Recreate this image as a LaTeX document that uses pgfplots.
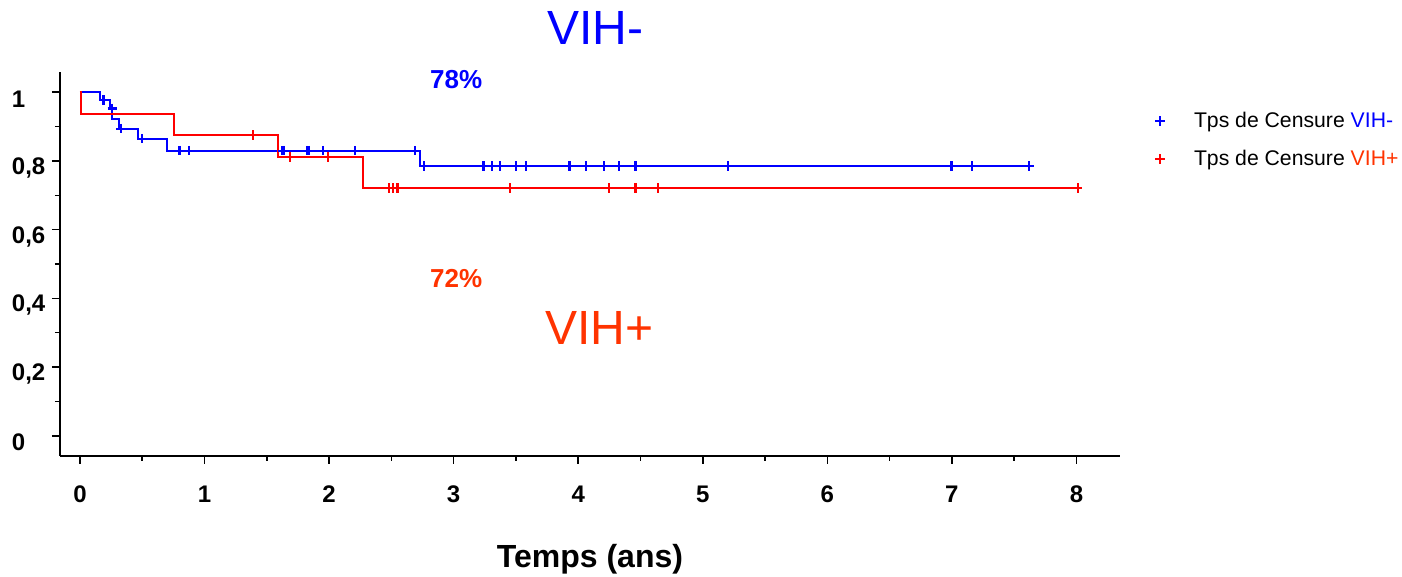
\documentclass[border=0pt]{standalone}
\usepackage{fontspec}
\setmainfont{Liberation Sans}
\usepackage{pgfplots}
\pgfplotsset{compat=1.18}
\definecolor{vihneg}{RGB}{0,0,255}
\definecolor{vihpos}{RGB}{255,0,0}
\definecolor{vihtxt}{RGB}{255,51,0}

\begin{document}
\begin{tikzpicture}
% page = 1402 x 577 px, 1 px = 0.5pt; axis box starts at px (60,456)
\path[use as bounding box] (-30pt,-60.5pt) rectangle (671pt,228pt);
\begin{axis}[
    scale only axis, width=530pt, height=192pt,
    xmin=-0.16, xmax=8.35, ymin=-0.059, ymax=1.059,
    axis lines=left, axis line style={-, line width=1pt},
    xtick={0,1,2,3,4,5,6,7,8}, minor x tick num=1,
    ytick={0,0.2,0.4,0.6,0.8,1}, minor y tick num=1,
    yticklabels={0,{0,2},{0,4},{0,6},{0,8},1},
    tick align=outside, major tick length=4pt, minor tick length=2.5pt,
    tick style={black, line width=0.8pt},
    ticklabel style={font=\fontsize{12}{14}\selectfont\bfseries},
    xticklabel style={yshift=-7.5pt},
    yticklabel style={xshift=2pt, yshift=-3.5pt, text width=18.5pt, align=left},
    /pgf/number format/assume math mode=true,
    xlabel={Temps (ans)},
    xlabel style={font=\fontsize{16}{19}\selectfont\bfseries,
        at={(axis description cs:0.5,-0.27)}, anchor=center},
    clip=false,
    legend style={draw=none, fill=none, inner sep=0pt,
        at={(axis description cs:1.033,0.908)}, anchor=north west,
        font=\fontsize{10.6}{12}\selectfont, row sep=6pt,
        /tikz/every odd column/.append style={column sep=12.5pt}},
    legend cell align=left,
]
% Kaplan-Meier steps
\addplot[const plot, vihneg, line width=1pt, forget plot] coordinates {
 (0,1) (0.16,0.977) (0.24,0.953) (0.26,0.921) (0.315,0.894)
 (0.468,0.865) (0.70,0.830) (2.73,0.785) (7.65,0.785)
};
\addplot[const plot, vihpos, line width=1pt, forget plot] coordinates {
 (0,1) (0.01,0.938) (0.757,0.875) (1.59,0.812) (2.27,0.721) (8.04,0.721)
};
% censored times
\addplot[only marks, mark=+, mark size=2.4pt, vihneg, line width=1.1pt] coordinates {
 (0.19,0.977) (0.26,0.953) (0.33,0.894) (0.50,0.865)
 (0.80,0.830) (0.877,0.830) (1.627,0.830) (1.637,0.830) (1.82,0.830)
 (1.84,0.830) (1.95,0.830) (2.21,0.830) (2.69,0.830)
 (2.76,0.785) (3.24,0.785) (3.31,0.785) (3.37,0.785) (3.50,0.785)
 (3.58,0.785) (3.93,0.785) (4.06,0.785) (4.21,0.785) (4.33,0.785)
 (4.46,0.785) (5.20,0.785) (6.99,0.785) (7.00,0.785) (7.16,0.785)
 (7.62,0.785)
};
\addlegendentry{Tps de Censure \textcolor{vihneg}{VIH-}}
\addplot[only marks, mark=+, mark size=2.4pt, vihpos, line width=1.1pt] coordinates {
 (1.39,0.875) (1.685,0.812) (1.99,0.812) (2.48,0.721) (2.515,0.721)
 (2.55,0.721) (3.45,0.721) (4.25,0.721) (4.46,0.721) (4.64,0.721)
 (8.01,0.721)
};
\addlegendentry{Tps de Censure \textcolor{vihtxt}{VIH+}}

\node[vihneg, font=\fontsize{24}{28}\selectfont] at (axis cs:4.14,1.186) {VIH-};
\node[vihtxt, font=\fontsize{24}{28}\selectfont] at (axis cs:4.17,0.314) {VIH+};
\node[vihneg, font=\fontsize{13}{15}\selectfont\bfseries] at (axis cs:3.02,1.038) {78\%};
\node[vihtxt, font=\fontsize{13}{15}\selectfont\bfseries] at (axis cs:3.02,0.459) {72\%};
\end{axis}
\end{tikzpicture}
\end{document}
